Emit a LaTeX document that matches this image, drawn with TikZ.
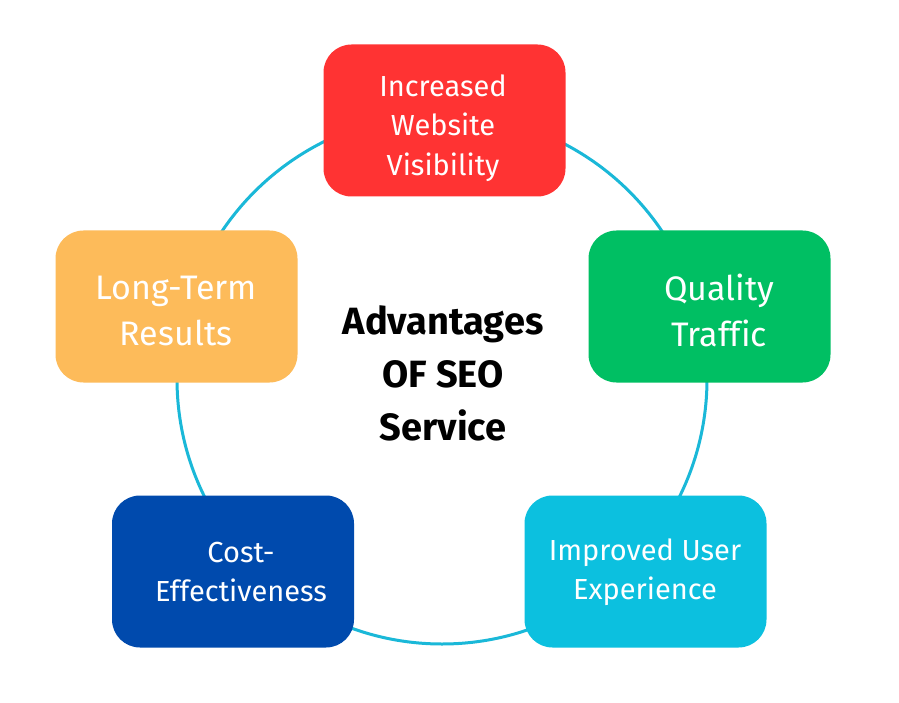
\documentclass[tikz,border=0pt]{standalone}
\usepackage{fontspec}
\setmainfont[Ligatures=NoCommon]{Fira Sans}
\definecolor{cRed}{HTML}{FF3333}
\definecolor{cOrange}{HTML}{FDBB5A}
\definecolor{cGreen}{HTML}{00BF63}
\definecolor{cBlue}{HTML}{004AAD}
\definecolor{cCyan}{HTML}{0CC0DF}
\definecolor{cRing}{HTML}{1AB8D8}
\begin{document}
\begin{tikzpicture}[x=1pt,y=-1pt,
  box/.style={rounded corners=28pt,minimum width=242pt,minimum height=152pt,inner sep=0pt,draw=none},
  lbl/.style={text=white,align=center,inner sep=0pt},
  small/.style={font=\fontsize{29}{39.5}\selectfont},
  big/.style={font=\fontsize{34}{46}\selectfont},
  ring/.style={draw=cRing,line width=3pt}]
\useasboundingbox (0,0) rectangle (899,703);
\fill[white] (0,0) rectangle (899,703);
\coordinate (ctr) at (442,379);
\draw[ring] (ctr) circle (265);
\node[box,fill=cRed]    (b1) at (444.5,120.5) {};
\node[box,fill=cGreen]  (b2) at (709.5,306.5) {};
\node[box,fill=cCyan]   (b3) at (645.5,571.5) {};
\node[box,fill=cBlue]   (b4) at (233,571.5) {};
\node[box,fill=cOrange] (b5) at (176.5,306.5) {};
\node[lbl,small] (t1) at (443,128) {Increased\\Website\\Visibility};
\node[lbl,big]   (t2) at (719,310) {Quality\\Traffic};
\node[lbl,small] (t3) at (645,572) {Improved User\\Experience};
\node[lbl,small] (t4) at (241,572) {Cost-\\Effectiveness};
\node[lbl,big]   (t5) at (176,311) {Long-Term\\Results};
\node[align=center,inner sep=0pt,font=\fontsize{38}{53}\selectfont\bfseries] (mid) at (443,373) {Advantages\\OF SEO\\Service};
\end{tikzpicture}
\end{document}
